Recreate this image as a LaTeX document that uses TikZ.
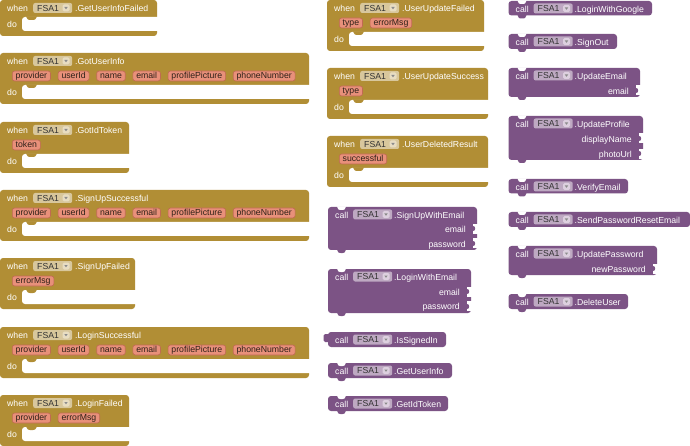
\documentclass[tikz,border=0pt]{standalone}
\usepackage{fontspec}
\setmainfont{Liberation Sans}
\usetikzlibrary{positioning}
\definecolor{evfill}{HTML}{B18E35}
\definecolor{callfill}{HTML}{7C5385}
\definecolor{evdd}{HTML}{D8C79C}
\definecolor{evarr}{HTML}{E8DDC2}
\definecolor{calldd}{HTML}{BEA9C2}
\definecolor{callarr}{HTML}{DDD0DF}
\definecolor{pillfill}{HTML}{E8907A}
\definecolor{pillline}{HTML}{C06A52}
\definecolor{pilltext}{HTML}{2E2018}
\definecolor{ddtext}{HTML}{333333}
\definecolor{tricol}{HTML}{8C8C8C}

\tikzset{
  wtxt/.style={anchor=west, text=white, inner sep=0pt, text height=6.3pt, text depth=1.8pt, yshift=-1.3pt},
  intxt/.style={anchor=east, text=white, inner sep=0pt, text height=6.3pt, text depth=1.8pt, yshift=-1.3pt},
  ddbox/.style={anchor=west, rectangle, rounded corners=2pt, minimum width=39pt, minimum height=10pt, inner sep=0pt},
  ddtxt/.style={anchor=west, text=ddtext, inner sep=0pt, text height=6.3pt, text depth=1.8pt, yshift=-1pt},
  ddarr/.style={rectangle, rounded corners=1.5pt, minimum width=7pt, minimum height=7pt, inner sep=0pt},
  pill/.style={anchor=west, fill=pillfill, draw=pillline, line width=0.6pt, rounded corners=2.5pt,
    inner xsep=3.4pt, inner ysep=0pt, minimum height=10pt, text height=6.3pt, text depth=1.8pt, text=pilltext},
}

% event block: #1 id, #2 x, #3 y, #4 width, #5 name, #6 extra height (0 or 15)
\newcommand\EvBlk[6]{%
  \fill[evfill,rounded corners=3pt] (#2,#3) rectangle (#2+#4,#3+36+#6);
  \fill[white,rounded corners=3pt] (#2+#4+8,#3+17+#6) -- (#2+22,#3+17+#6) -- (#2+22,#3+31+#6) -- (#2+#4+8,#3+31+#6) -- cycle;
  \fill[evfill] (#2+26,#3+16.5+#6) .. controls (#2+28,#3+20+#6) .. (#2+30,#3+20+#6) -- (#2+33,#3+20+#6) .. controls (#2+35,#3+20+#6) .. (#2+37,#3+16.5+#6) -- cycle;
  \node[wtxt] (#1w) at (#2+7,#3+8) {when};
  \node[ddbox,fill=evdd] (#1d) at (#2+33,#3+8) {};
  \node[ddtxt] (#1f) at (#2+37,#3+8) {FSA1};
  \node[ddarr,fill=evarr] (#1a) at (#2+66,#3+8) {};
  \fill[tricol] (#2+64.3,#3+7) -- (#2+67.7,#3+7) -- (#2+66,#3+9.3) -- cycle;
  \node[wtxt] (#1n) at (#2+75,#3+8) {.#5};
  \node[wtxt] (#1do) at (#2+7,#3+24+#6) {do};
}

% call block: #1 id, #2 x, #3 top, #4 bottom, #5 right, #6 name
\newcommand\CallBlk[6]{%
  \fill[callfill,rounded corners=3pt] (#2,#3) rectangle (#5,#4);
  \node[wtxt] (#1c) at (#2+7,#3+7.5) {call};
  \node[ddbox,fill=calldd] (#1d) at (#2+25,#3+7.5) {};
  \node[ddtxt] (#1f) at (#2+29,#3+7.5) {FSA1};
  \node[ddarr,fill=callarr] (#1a) at (#2+58,#3+7.5) {};
  \fill[tricol] (#2+56.3,#3+6.5) -- (#2+59.7,#3+6.5) -- (#2+58,#3+8.8) -- cycle;
  \node[wtxt] (#1n) at (#2+66,#3+7.5) {.#6};
}
% notch on top and bump at bottom: #1 x, #2 top, #3 bottom
\newcommand\Notches[3]{%
  \fill[white] (#1+9,#2-0.5) .. controls (#1+10.5,#2+3) .. (#1+12.5,#2+3) -- (#1+14.5,#2+3) .. controls (#1+16.5,#2+3) .. (#1+18,#2-0.5) -- cycle;
  \fill[callfill] (#1+9,#3-0.5) .. controls (#1+10.5,#3+3) .. (#1+12.5,#3+3) -- (#1+14.5,#3+3) .. controls (#1+16.5,#3+3) .. (#1+18,#3-0.5) -- cycle;
}
% value input: #1 id, #2 right, #3 y centre, #4 label
\newcommand\InPort[4]{%
  \node[intxt] (#1) at (#2-11,#3) {#4};
  \fill[white] (#2-4,#3-5) rectangle (#2+0.5,#3+5);
  \fill[callfill] (#2-4.2,#3-2.5) .. controls (#2-1.5,#3-2.5) and (#2-1.5,#3+2.5) .. (#2-4.2,#3+2.5) -- cycle;
}
% six parameter pills: #1 id, #2 x, #3 y
\newcommand\SixPills[3]{%
  \node[pill] (#1p1) at (#2+12,#3+23) {provider};
  \node[pill,right=7pt of #1p1] (#1p2) {userId};
  \node[pill,right=7pt of #1p2] (#1p3) {name};
  \node[pill,right=7pt of #1p3] (#1p4) {email};
  \node[pill,right=7pt of #1p4] (#1p5) {profilePicture};
  \node[pill,right=7pt of #1p5] (#1p6) {phoneNumber};
}

\begin{document}
\begin{tikzpicture}[x=1pt,y=-1pt,font=\fontsize{8.7}{10}\selectfont]
\useasboundingbox[fill=white] (0,0) rectangle (690,446);

% ---------- left column: events ----------
\EvBlk{eA}{0}{0}{157}{GetUserInfoFailed}{0}

\EvBlk{eB}{0}{53}{309}{GotUserInfo}{15}
\SixPills{eB}{0}{53}

\EvBlk{eC}{0}{122}{129}{GotIdToken}{15}
\node[pill] (eCp1) at (12,145) {token};

\EvBlk{eD}{0}{190}{309}{SignUpSuccessful}{15}
\SixPills{eD}{0}{190}

\EvBlk{eE}{0}{258}{135}{SignUpFailed}{15}
\node[pill] (eEp1) at (12,281) {errorMsg};

\EvBlk{eF}{0}{327}{309}{LoginSuccessful}{15}
\SixPills{eF}{0}{327}

\EvBlk{eG}{0}{395}{129}{LoginFailed}{15}
\node[pill] (eGp1) at (12,418) {provider};
\node[pill,right=7pt of eGp1] (eGp2) {errorMsg};

% ---------- middle column ----------
\EvBlk{eH}{327}{0}{157}{UserUpdateFailed}{15}
\node[pill] (eHp1) at (339,23) {type};
\node[pill,right=7pt of eHp1] (eHp2) {errorMsg};

\EvBlk{eI}{327}{68}{161}{UserUpdateSuccess}{15}
\node[pill] (eIp1) at (339,91) {type};

\EvBlk{eJ}{327}{136}{161}{UserDeletedResult}{15}
\node[pill] (eJp1) at (339,159) {successful};

\CallBlk{cA}{328}{207}{250}{477}{SignUpWithEmail}
\Notches{328}{207}{250}
\InPort{cAi1}{477}{229}{email}
\InPort{cAi2}{477}{243.5}{password}

\CallBlk{cB}{328}{269}{313}{471}{LoginWithEmail}
\Notches{328}{269}{313}
\InPort{cBi1}{471}{291.5}{email}
\InPort{cBi2}{471}{306}{password}

\fill[callfill,rounded corners=1.5pt] (323.5,334) rectangle (330,342);
\CallBlk{cC}{328}{332}{347}{446}{IsSignedIn}

\CallBlk{cD}{328}{363}{378}{452}{GetUserInfo}
\Notches{328}{363}{378}

\CallBlk{cE}{328}{396}{411}{448}{GetIdToken}
\Notches{328}{396}{411}

% ---------- right column ----------
\CallBlk{rA}{508.5}{1}{15.5}{652}{LoginWithGoogle}
\Notches{508.5}{1}{15.5}

\CallBlk{rB}{508.5}{34}{49}{617}{SignOut}
\Notches{508.5}{34}{49}

\CallBlk{rC}{508.5}{68}{97}{640}{UpdateEmail}
\Notches{508.5}{68}{97}
\InPort{rCi1}{640}{90.5}{email}

\CallBlk{rD}{508.5}{116}{160}{643}{UpdateProfile}
\Notches{508.5}{116}{160}
\InPort{rDi1}{643}{138.5}{displayName}
\InPort{rDi2}{643}{154}{photoUrl}

\CallBlk{rE}{508.5}{179}{193.5}{628}{VerifyEmail}
\Notches{508.5}{179}{193.5}

\CallBlk{rF}{508.5}{212}{227}{690}{SendPasswordResetEmail}
\Notches{508.5}{212}{227}

\CallBlk{rG}{508.5}{246}{275}{657}{UpdatePassword}
\Notches{508.5}{246}{275}
\InPort{rGi1}{657}{268.5}{newPassword}

\CallBlk{rH}{508.5}{294}{309}{628}{DeleteUser}
\Notches{508.5}{294}{309}
\end{tikzpicture}
\end{document}
